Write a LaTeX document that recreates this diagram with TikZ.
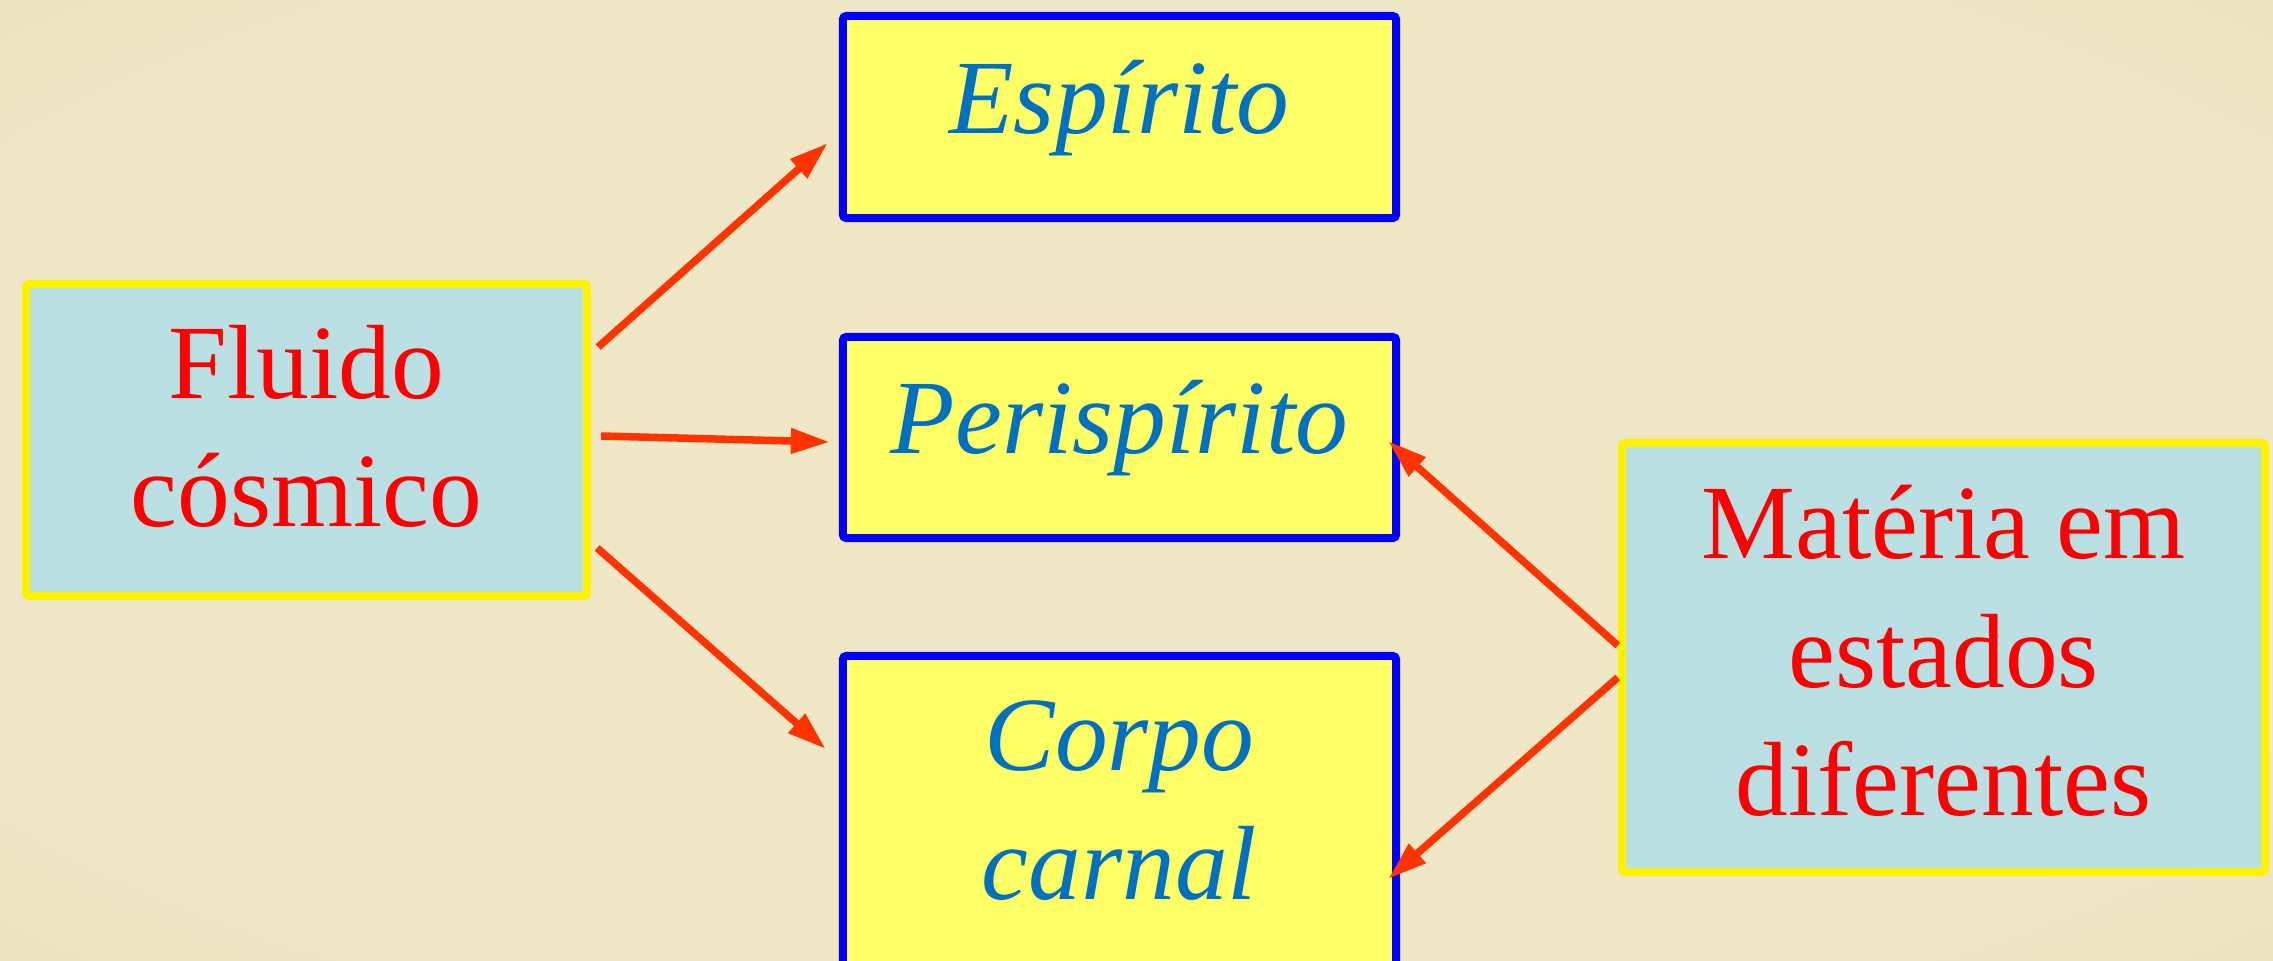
\documentclass[tikz,border=0pt]{standalone}
\usepackage{fontspec}
\setmainfont{Liberation Serif}
\usepackage{xcolor}
\usepackage{tikz}
\usetikzlibrary{arrows,arrows.meta,positioning,shapes,calc}
\definecolor{bgin}{HTML}{F0E7C7}
\definecolor{bgmid}{HTML}{E8DAAE}
\definecolor{bgout}{HTML}{CBAF78}
\definecolor{boxblue}{HTML}{BBE0E3}
\definecolor{boxyel}{HTML}{FFFF66}
\definecolor{txtblue}{HTML}{0070C0}
\definecolor{arrred}{HTML}{FF3300}
\pgfdeclareradialshading{parchment}{\pgfpoint{0bp}{0bp}}{color(0bp)=(bgin); color(28bp)=(bgin); color(50bp)=(bgmid); color(72bp)=(bgout)}

\begin{document}
\begin{tikzpicture}[x = .01cm, y = -.01cm,
  srcbox/.style = {draw = yellow, fill = boxblue, line width = .08cm, rounded corners = 1pt,
    inner sep = 0pt, align = center, text = red, font = \fontsize{30}{36.5}\selectfont},
  dstbox/.style = {draw = blue, fill = boxyel, line width = .08cm, rounded corners = 1pt,
    inner sep = 0pt, align = center, text = txtblue, font = \fontsize{30}{36.5}\selectfont\itshape},
  link/.style = {-{Triangle[length = .39cm, width = .24cm]}, draw = arrred, line width = .075cm}]
\clip (0,0) rectangle (2273,961);
\shade[shading = parchment] (0,0) rectangle (2273,961);

\node[srcbox, minimum width = 5.61cm, minimum height = 3.12cm] (f) at (306.5,440)
  {Fluido\\cósmico\rule[-.28cm]{0pt}{0pt}};
\node[dstbox, minimum width = 5.53cm, minimum height = 2.02cm] (e) at (1119.5,117)
  {Espírito\rule[-.4cm]{0pt}{0pt}};
\node[dstbox, minimum width = 5.53cm, minimum height = 2.01cm] (p) at (1119.5,437.5)
  {Perispírito\rule[-.42cm]{0pt}{0pt}};
\node[dstbox, minimum width = 5.53cm, minimum height = 3.28cm] (c) at (1119.5,820)
  {Corpo\\carnal\rule[-.4cm]{0pt}{0pt}};
\node[srcbox, minimum width = 6.43cm, minimum height = 4.29cm] (m) at (1943.5,657.5)
  {Matéria em\\estados\\diferentes\rule[-.14cm]{0pt}{0pt}};

\draw[link] ($(f.east)+(7,-93)$) -- ($(e.west)+(-11,26)$);
\draw[link] ($(f.east)+(10,-4)$) -- ($(p.west)+(-9,4.5)$);
\draw[link] ($(f.east)+(6,108)$) -- ($(c.west)+(-13,-71)$);
\draw[link] ($(m.west)+(0,-12)$) -- ($(p.east)+(-12,3.5)$);
\draw[link] ($(m.west)+(0,20)$) -- ($(c.east)+(-12,59)$);
\end{tikzpicture}
\end{document}
